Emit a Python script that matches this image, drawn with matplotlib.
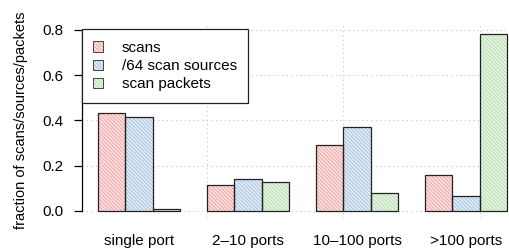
import numpy as np
import matplotlib
matplotlib.use("Agg")
import matplotlib.pyplot as plt

plt.rcParams['font.family'] = ['Liberation Sans', 'DejaVu Sans']
plt.rcParams['hatch.linewidth'] = 0.8

categories = ['single port', '2\u201310 ports', '10\u2013100 ports', '>100 ports']
series = ['scans', '/64 scan sources', 'scan packets']
scans = [0.432, 0.114, 0.290, 0.158]
sources = [0.414, 0.143, 0.371, 0.066]
packets = [0.008, 0.128, 0.078, 0.784]

hatch_cols = ['#f4a4a4', '#a8c4e2', '#b6deae']
tint_cols = ['#fde8e8', '#e9f0f8', '#edf7ea']
HATCH = '\\' * 9

fig = plt.figure(figsize=(5.09, 2.52), dpi=100)
# plot region runs a bit past the right edge, like the cropped original
ax = fig.add_axes([0.1603, 0.134, 0.868, 0.7757])

# R barplot(beside=TRUE) positions: 1 unit per bar, 1 unit gap before each group
x0 = np.arange(len(categories)) * 4 + 1
handles = []
for k, (vals, col, tint) in enumerate(zip([scans, sources, packets], hatch_cols, tint_cols)):
    left = x0 + k
    ax.bar(left, vals, width=1, align='edge', color=tint, edgecolor=col,
           linewidth=0, hatch=HATCH, zorder=2)
    ax.bar(left, vals, width=1, align='edge', fill=False, edgecolor='#222222',
           linewidth=0.9, zorder=3)
    h1 = plt.Rectangle((0, 0), 1, 1, facecolor=tint, edgecolor=col,
                       linewidth=0, hatch=HATCH)
    h2 = plt.Rectangle((0, 0), 1, 1, fill=False, edgecolor='#444444', linewidth=0.7)
    handles.append((h1, h2))

ax.set_xlim(0.4, 16.6)
ax.set_ylim(-0.032, 0.832)

# dotted grid like R's grid()
for gx in [5, 10, 15]:
    ax.axvline(gx, color='#c4c4c4', linestyle=(0, (1, 3)), linewidth=0.8, zorder=1)
for gy in [0, 0.2, 0.4, 0.6, 0.8]:
    ax.axhline(gy, color='#c4c4c4', linestyle=(0, (1, 3)), linewidth=0.8, zorder=1)

for s in ['top', 'right', 'bottom']:
    ax.spines[s].set_visible(False)
ax.spines['left'].set_bounds(0, 0.8)
ax.spines['left'].set_linewidth(0.9)

ax.set_yticks([0, 0.2, 0.4, 0.6, 0.8])
ax.set_yticklabels(['0.0', '0.2', '0.4', '0.6', '0.8'])
ax.tick_params(axis='y', length=6, width=0.9, pad=7, labelsize=11)
ax.set_xticks(x0 + 1.5)
ax.set_xticklabels(categories)
ax.tick_params(axis='x', length=0, pad=11, labelsize=11)

fig.text(0.041, 0.524, 'fraction of scans/sources/packets', rotation=90,
         ha='center', va='center', fontsize=10.5)

leg = ax.legend(handles, series, loc='upper left', bbox_to_anchor=(0.001, 0.966),
                borderaxespad=0, fontsize=11, frameon=True, fancybox=False,
                edgecolor='#222222', framealpha=1, handlelength=0.65,
                handleheight=0.65, handletextpad=1.2, labelspacing=0.28,
                borderpad=0.75)
leg.get_frame().set_linewidth(0.9)
leg.set_zorder(5)

fig.savefig('out.png', dpi=100)
